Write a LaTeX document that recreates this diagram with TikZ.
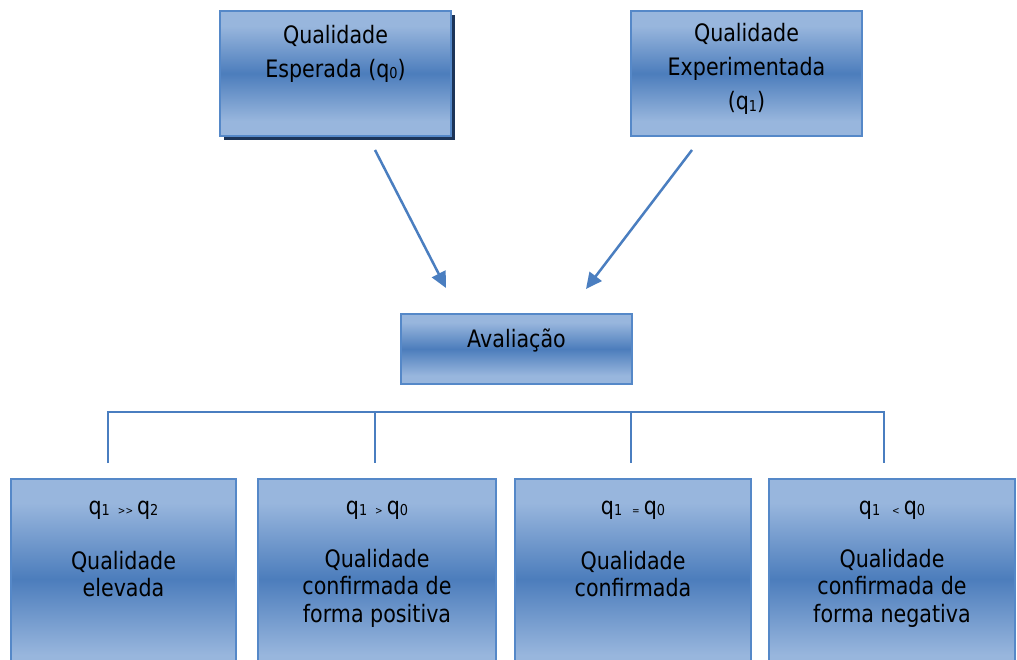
\documentclass[tikz,border=0pt]{standalone}
\usepackage{fontspec}
\setmainfont{DejaVu Sans}[FakeStretch=0.86]
\usetikzlibrary{arrows.meta}

\definecolor{boxlight}{HTML}{98B6DD}
\definecolor{boxdark}{HTML}{4C7DBC}
\definecolor{boxedge}{HTML}{5588C8}
\definecolor{linkblue}{HTML}{4A7EC0}
\definecolor{shadownavy}{HTML}{1C3458}

% light - dark - light band across the height of a box
\pgfdeclareverticalshading{boxband}{100bp}{%
  color(0bp)=(boxlight); color(25bp)=(boxlight); color(31bp)=(boxlight);
  color(50bp)=(boxdark); color(69bp)=(boxlight); color(75bp)=(boxlight);
  color(100bp)=(boxlight)}

% small subscript digit and small relation sign
\newcommand\sdig[1]{\raisebox{-1.5pt}{\fontsize{15}{15}\selectfont #1}}
\newcommand\srel[1]{{\fontsize{10.5}{10.5}\selectfont #1}}

\tikzset{
  qbox/.style={draw=boxedge, line width=2.2pt, shading=boxband,
    inner sep=0pt, outer sep=0pt},
  toptext/.style={font=\fontsize{24}{34}\selectfont, align=center, inner sep=0pt},
  bottext/.style={font=\fontsize{24}{27.5}\selectfont, align=center, inner sep=0pt},
  link/.style={draw=linkblue, line width=2.5pt, -{Triangle[length=16pt,width=15pt]}},
  bracket/.style={draw=linkblue, line width=2.2pt}
}

\begin{document}
\begin{tikzpicture}[x=1pt,y=-1pt]
\useasboundingbox (0,0) rectangle (1017,659);
\clip (0,0) rectangle (1017,659);
\fill[white] (0,0) rectangle (1017,659);

% top boxes
\fill[shadownavy] (224,15) rectangle (455,140);
\node[qbox, minimum width=231pt, minimum height=125pt] (esp) at (335.5,73.5) {};
\node[qbox, minimum width=231pt, minimum height=125pt] (exp) at (746.5,73.5) {};
\node[toptext] (esptxt) at (335.5,53.5) {Qualidade\\Esperada (q\sdig{0})};
\node[toptext] (exptxt) at (746.5,69) {Qualidade\\Experimentada\\(q\sdig{1})};

% evaluation box
\node[qbox, minimum width=231pt, minimum height=70pt] (aval) at (516.5,349) {};
\node[toptext] (avaltxt) at (516.5,340) {Avaliação};

% arrows towards the evaluation
\coordinate (a1s) at (375,150);
\coordinate (a1e) at (446,288);
\coordinate (a2s) at (692,150);
\coordinate (a2e) at (586,289);
\draw[link] (a1s) -- (a1e);
\draw[link] (a2s) -- (a2e);

% bracket
\coordinate (bl) at (108,412);
\coordinate (br) at (884,412);
\coordinate (b2) at (375,412);
\coordinate (b3) at (631,412);
\draw[bracket] (108,463) -- (bl) -- (br) -- (884,463);
\draw[bracket] (b2) -- (375,463);
\draw[bracket] (b3) -- (631,463);

% result boxes
\node[qbox, minimum width=225pt, minimum height=200pt] (r1) at (123.5,579) {};
\node[qbox, minimum width=238pt, minimum height=200pt] (r2) at (377,579) {};
\node[qbox, minimum width=236pt, minimum height=200pt] (r3) at (633,579) {};
\node[qbox, minimum width=246pt, minimum height=200pt] (r4) at (892,579) {};

\node[toptext] (r1q) at (123.5,510) {q\sdig{1}\hspace{8pt}\srel{>{}>}\,q\sdig{2}};
\node[toptext] (r2q) at (377,510) {q\sdig{1}\hspace{8pt}\srel{>}\,q\sdig{0}};
\node[toptext] (r3q) at (633,510) {q\sdig{1}\hspace{10pt}\srel{=}\,q\sdig{0}};
\node[toptext] (r4q) at (892,510) {q\sdig{1}\hspace{12pt}\srel{<}\,q\sdig{0}};

\node[bottext] (r1t) at (123.5,574) {Qualidade\\elevada};
\node[bottext] (r2t) at (377,588) {Qualidade\\confirmada de\\forma positiva};
\node[bottext] (r3t) at (633,574) {Qualidade\\confirmada};
\node[bottext] (r4t) at (892,588) {Qualidade\\confirmada de\\forma negativa};
\end{tikzpicture}
\end{document}
